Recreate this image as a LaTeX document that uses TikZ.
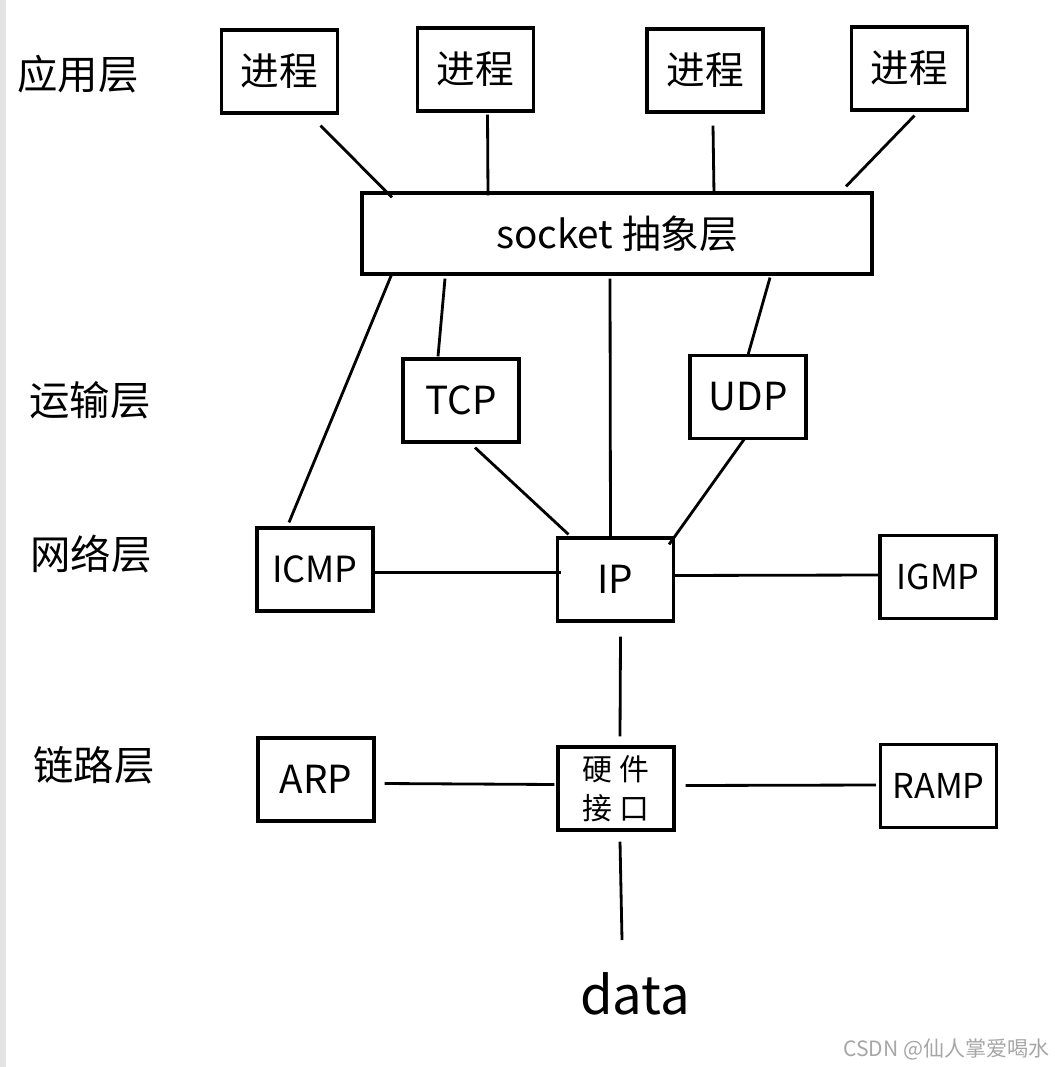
\documentclass[tikz,border=0pt]{standalone}
\usepackage{fontspec}
\setmainfont{Noto Sans CJK SC}
\usepackage{tikz}
\usetikzlibrary{positioning,calc}
\tikzset{proc box/.style={draw,line width=1.8pt,minimum width=2.32cm,minimum height=1.66cm,inner sep=0pt,font=\fontsize{22}{24}\selectfont},}
\tikzset{sock box/.style={proc box,minimum width=10.2cm,minimum height=1.62cm},}
\tikzset{small text/.style={font=\fontsize{19.5}{22}\selectfont},}
\tikzset{layer text/.style={font=\fontsize{23}{26}\selectfont,inner sep=0pt},}
\tikzstyle{conn} = [line width=1.6pt]

\begin{document}
\begin{tikzpicture}[x=0.02cm,y=-0.02cm]
    \useasboundingbox (0,0) rectangle (1054,1067);
    \fill[gray!22] (0,0) rectangle (6,1067);

    \node[layer text] (app) at (78,74) {应用层};
    \node[layer text] (trans) at (90,400) {运输层};
    \node[layer text] (net) at (91,554) {网络层};
    \node[layer text] (link) at (94,765) {链路层};

    \node[proc box] (p1) at (279.5,71.5) {进程};
    \node[proc box] (p2) at (475.5,69.5) {进程};
    \node[proc box] (p3) at (705,70.5) {进程};
    \node[proc box] (p4) at (909.5,68.5) {进程};
    \node[sock box] (sock) at (617,233.5) {socket 抽象层};

    \node[proc box] (tcp) at (461,400.5) {TCP};
    \node[proc box] (udp) at (748,397) {UDP};
    \node[proc box,font=\fontsize{20.5}{22}\selectfont] (icmp) at (315,569.5) {ICMP};
    \node[proc box] (ip) at (615.5,579.5) {IP};
    \node[proc box,small text] (igmp) at (938,577) {IGMP};
    \node[proc box] (arp) at (316,779.5) {ARP};
    \node[proc box,align=center,font=\fontsize{17}{22}\selectfont] (hw) at (616,788.5) {硬\ 件\\接\ 口};
    \node[proc box,small text] (ramp) at (938.5,786) {RAMP};
    \node[anchor=north,inner sep=0pt,font=\fontsize{30}{32}\selectfont] (data) at (635,972) {data};

   	\draw[conn] ($(p1.south)+(41,11)$) -- ($(sock.north)+(-225,6)$);
   	\draw[conn] ($(p2.south)+(12,2)$) -- ($(sock.north)+(-129,4)$);
   	\draw[conn] ($(p3.south)+(8,12)$) -- ($(sock.north)+(97,3)$);
   	\draw[conn] ($(p4.south)+(5,4)$) -- ($(sock.north)+(229,-5)$);
   	\draw[conn] ($(sock.south)+(-225,-2)$) -- ($(icmp.north)+(-26,-4)$);
   	\draw[conn] ($(sock.south)+(-172,3)$) -- ($(tcp.north)+(-23,-1)$);
   	\draw[conn] ($(sock.south)+(-7,3)$) -- ($(ip.north)+(-5,0)$);
   	\draw[conn] ($(sock.south)+(153,2)$) -- ($(udp.north)+(0,1)$);
   	\draw[conn] ($(tcp.south)+(14,4)$) -- ($(ip.north)+(-47,-2)$);
   	\draw[conn] ($(udp.south)+(-3,-2)$) -- ($(ip.north east)+(-6,8)$);
   	\draw[conn] ($(icmp.east)+(0,3)$) -- ($(ip.west)+(5,-7)$);
   	\draw[conn] ($(ip.east)+(-3,-4)$) -- ($(igmp.west)+(0,-2)$);
   	\draw[conn] ($(ip.south)+(5,14)$) -- ($(hw.north)+(4,-9)$);
   	\draw[conn] ($(arp.east)+(9,4)$) -- ($(hw.west)+(-2,-4)$);
   	\draw[conn] ($(hw.east)+(10,-3)$) -- ($(ramp.west)+(-3,-1)$);
   	\draw[conn] ($(hw.south)+(4,10)$) -- ($(data.north)+(-13,-32)$);

    \node[anchor=east,inner sep=0pt,text=gray!70,font=\fontsize{12}{14}\selectfont] (mark) at (1050,1049) {CSDN @仙人掌爱喝水};
\end{tikzpicture}
\end{document}
